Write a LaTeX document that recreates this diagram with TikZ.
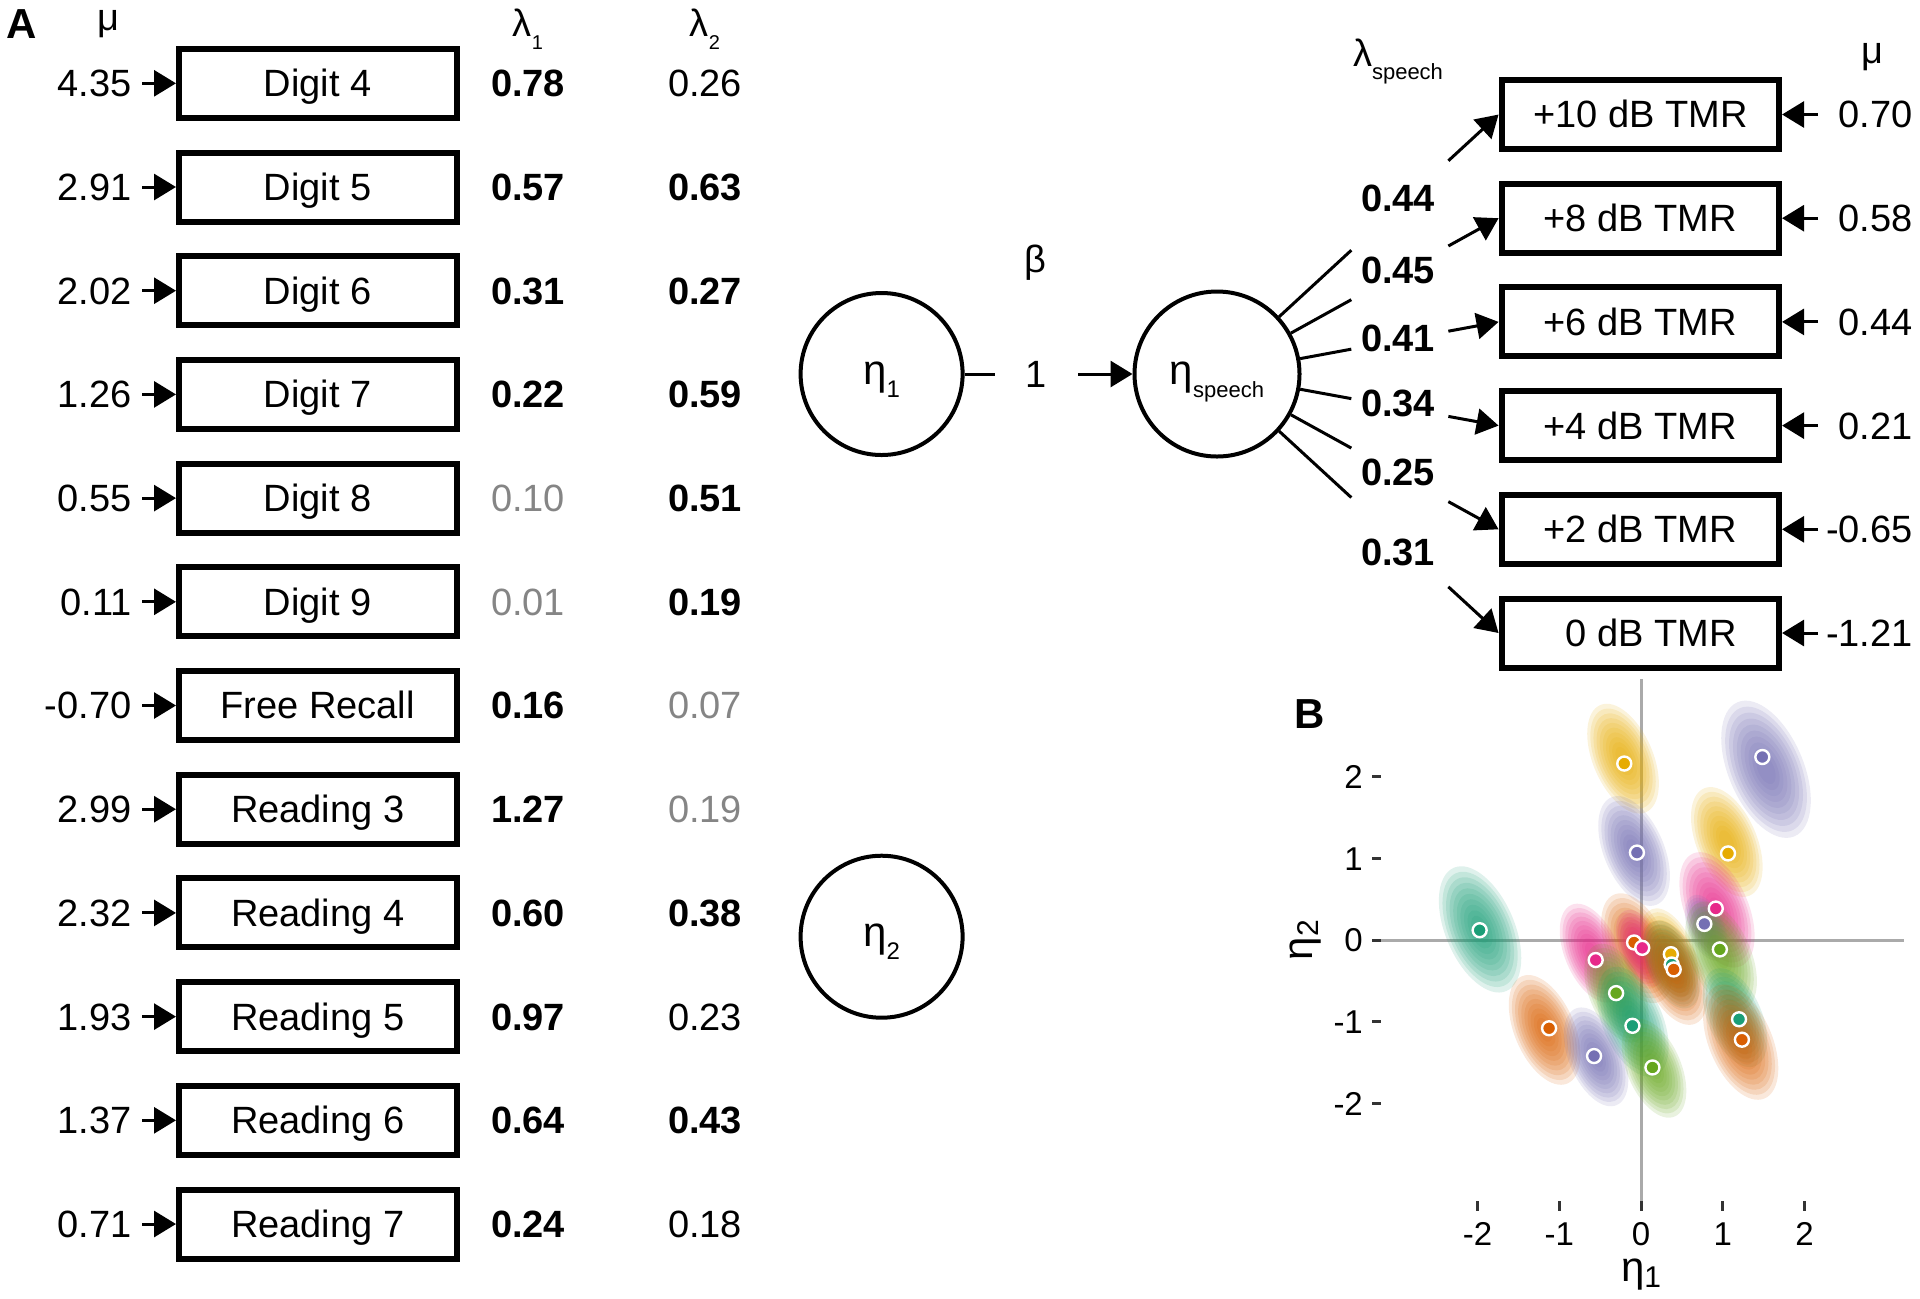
\documentclass[tikz,border=0pt]{standalone}
\usepackage{fontspec}
\setmainfont{Liberation Sans}
\usetikzlibrary{arrows.meta,calc}
\definecolor{cteal}{HTML}{1B9E77}
\definecolor{corange}{HTML}{D95F02}
\definecolor{cpurple}{HTML}{7570B3}
\definecolor{cpink}{HTML}{E7298A}
\definecolor{cgreen}{HTML}{66A61E}
\definecolor{cyellow}{HTML}{E6AB02}
\definecolor{valgray}{HTML}{858585}
\definecolor{axgray}{HTML}{AAAAAA}
\newcommand\lsub[2][10pt]{\raisebox{-6.5pt}{\fontsize{#1}{#1}\selectfont #2}}
\begin{document}
\begin{tikzpicture}[x=0.5pt,y=-0.5pt,
  font=\fontsize{19}{22}\selectfont,
  boxnode/.style={draw, line width=3pt, minimum width=138.75pt, minimum height=34.5pt,
    inner sep=0pt, text height=13.4pt, text depth=0pt},
  lab/.style={inner sep=0pt, text height=13.4pt, text depth=0pt},
  vb/.style={font=\fontsize{19}{22}\selectfont\bfseries},
  vg/.style={text=valgray},
  vn/.style={},
  arr/.style={line width=1.5pt, -{Triangle[length=11pt,width=13pt]}},
  conn/.style={line width=1.5pt},
  latent/.style={circle, draw, line width=2pt, inner sep=0pt, text height=10pt, text depth=0pt},
  panel/.style={font=\fontsize{21}{24}\selectfont\bfseries, inner sep=0pt},
  ticklab/.style={font=\fontsize{16.5}{19}\selectfont, inner sep=0pt, text height=11.8pt, text depth=0pt},
]
\useasboundingbox (0,0) rectangle (1920,1298);

% ---------- headers panel A ----------
\node[panel] (pA) at (22,24.5) {A};
\node[inner sep=0pt] (hmu) at (108,24) {μ};
\node[inner sep=0pt] (hl1) at (528,29) {λ\lsub{1}};
\node[inner sep=0pt] (hl2) at (705,29) {λ\lsub{2}};

% ---------- left indicators ----------
\foreach \i/\nm/\m/\a/\sa/\b/\sb in {
0/{Digit 4}/4.35/0.78/vb/0.26/vn,
1/{Digit 5}/2.91/0.57/vb/0.63/vb,
2/{Digit 6}/2.02/0.31/vb/0.27/vb,
3/{Digit 7}/1.26/0.22/vb/0.59/vb,
4/{Digit 8}/0.55/0.10/vg/0.51/vb,
5/{Digit 9}/0.11/0.01/vg/0.19/vb,
6/{Free Recall}/-0.70/0.16/vb/0.07/vg,
7/{Reading 3}/2.99/1.27/vb/0.19/vg,
8/{Reading 4}/2.32/0.60/vb/0.38/vb,
9/{Reading 5}/1.93/0.97/vb/0.23/vn,
10/{Reading 6}/1.37/0.64/vb/0.43/vb,
11/{Reading 7}/0.71/0.24/vb/0.18/vn}{
  \pgfmathsetmacro\yy{83.3+103.7*\i}
  \node[boxnode] (L\i) at (317.75,\yy) {\nm};
  \node[lab, anchor=east, inner xsep=5pt] (M\i) at (142,\yy) {\m};
  \draw[arr] (M\i) -- (L\i);
  \node[lab,\sa] (A\i) at (528,\yy) {\a};
  \node[lab,\sb] (B\i) at (705,\yy) {\b};
}

% ---------- latent variables ----------
\node[latent, minimum size=81pt, font=\fontsize{21}{24}\selectfont] (E1) at (881.6,374) {η\lsub[12pt]{1}};
\node[latent, minimum size=81pt, font=\fontsize{21}{24}\selectfont] (E2) at (881.6,936.7) {η\lsub[12pt]{2}};
\node[latent, minimum size=82.5pt, font=\fontsize{21}{24}\selectfont] (S) at (1217,374) {η\lsub[11pt]{speech}};

\node[inner sep=0pt] (beta) at (1035,263) {β};
\draw[arr] (E1) -- node[pos=0.428, lab, fill=white, minimum width=41.5pt, minimum height=12pt] (one) {1} (S);

% ---------- right indicators ----------
\node[inner sep=0pt] (hls) at (1398,62) {λ\lsub[11pt]{speech}};
\node[inner sep=0pt] (hmu2) at (1872,57) {μ};

\foreach \j/\nm/\m in {0/{+10 dB TMR}/0.70, 1/{+8 dB TMR}/0.58, 2/{+6 dB TMR}/0.44,
  3/{+4 dB TMR}/0.21, 4/{+2 dB TMR}/-0.65, 5/{\phantom{+}0 dB TMR}/-1.21}{
  \pgfmathsetmacro\yy{114.5+103.7*\j}
  \node[boxnode] (R\j) at (1640.3,\yy) {\nm};
  \node[lab, anchor=east] (V\j) at (1913,\yy) {\m};
  \coordinate (T\j) at (1818,\yy);
  \draw[arr] (T\j) -- (R\j);
}

\foreach \j/\l/\ly in {0/0.44/198, 1/0.45/270, 2/0.41/338, 3/0.34/403, 4/0.25/472, 5/0.31/552}{
  \draw[conn] (S) -- ($(S.center)!0.477!(R\j.west)$);
  \draw[arr] ($(S.center)!0.8217!(R\j.west)$) -- (R\j.west);
  \node[lab, vb] (LS\j) at (1398,\ly) {\l};
}

% ---------- panel B ----------
\node[panel] (pB) at (1310,714) {B};
\begin{scope}[shift={(1641,940)}, x=40.85pt, y=40.85pt]
  \draw[axgray, line width=1.5pt] (-3.22,0) -- (3.22,0);
  \draw[axgray, line width=1.5pt] (0,3.19) -- (0,-3.25);
  \foreach \v in {-2,...,2}{
    \draw[black!80, line width=1.5pt] (-3.29,\v) -- (-3.18,\v);
    \node[ticklab, anchor=east] (ty\v) at (-3.40,\v) {\v};
    \draw[black!80, line width=1.5pt] (\v,-3.20) -- (\v,-3.32);
    \node[ticklab] (tx\v) at (\v,-3.59) {\v};
  }
  \node[inner sep=0pt, font=\fontsize{21}{24}\selectfont] (xlab) at (0,-4.09) {η\raisebox{-3pt}{\fontsize{15}{15}\selectfont 1}};
  \node[inner sep=0pt, rotate=90, font=\fontsize{21}{24}\selectfont] (ylab) at (-4.11,0) {η\raisebox{-3pt}{\fontsize{15}{15}\selectfont 2}};

  \foreach \bx/\by/\c/\sc in {
    -0.22/2.22/cyellow/1, 1.53/2.09/cpurple/1.25, -0.085/1.09/cpurple/1,
    1.05/1.2/cyellow/1, 0.93/0.37/cpink/1.05, 0.8/0.15/cpurple/0.6,
    -1.97/0.13/cteal/1.15, -0.05/-0.1/corange/1, 0.0/-0.1/cpink/0.7,
    0.35/-0.15/cyellow/0.8, 0.375/-0.3/cteal/0.8, 0.4/-0.4/corange/0.95,
    0.98/-0.2/cgreen/1, -0.6/-0.16/cpink/0.9, -0.3/-0.65/cgreen/0.9,
    -0.1/-1.0/cteal/1, -1.18/-1.1/corange/1, -0.55/-1.43/cpurple/0.9,
    0.16/-1.57/cgreen/0.9, 1.15/-0.95/cteal/0.9, 1.22/-1.25/corange/1.05}{
    \foreach \s in {1.15,1.05,0.95,0.85,0.75,0.65,0.55,0.45,0.35,0.25}{
      \fill[\c, fill opacity=0.14, rotate around={23:(\bx,\by)}]
        (\bx,\by) ellipse ({0.32*\sc*\s} and {0.62*\sc*\s});
    }
  }
  \foreach \px/\py/\c in {
    -0.205/2.16/cyellow, 1.485/2.24/cpurple, -0.05/1.07/cpurple, 1.065/1.06/cyellow,
    0.915/0.385/cpink, 0.775/0.197/cpurple, -1.975/0.12/cteal, -0.085/-0.03/corange,
    0.015/-0.096/cpink, 0.365/-0.173/cyellow, 0.375/-0.30/cteal, 0.4/-0.36/corange,
    0.965/-0.115/cgreen, -0.555/-0.245/cpink, -0.305/-0.65/cgreen, -0.105/-1.05/cteal,
    -1.125/-1.08/corange, -0.575/-1.42/cpurple, 0.14/-1.56/cgreen, 1.2/-0.97/cteal,
    1.235/-1.22/corange}{
    \fill[fill=\c, draw=white, line width=1.2pt] (\px,\py) circle (3.5pt);
  }
\end{scope}
\end{tikzpicture}
\end{document}
